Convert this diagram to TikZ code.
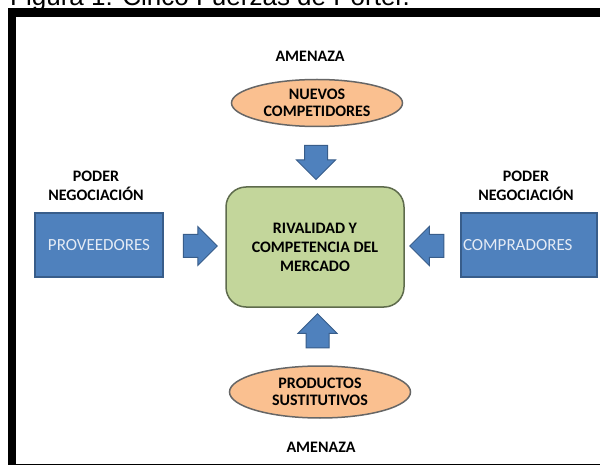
\documentclass[tikz,border=0pt]{standalone}
\usepackage{fontspec}
\setmainfont{Carlito}
\newfontfamily\arialfont{Liberation Sans}
\usetikzlibrary{shapes,arrows,calc}
\definecolor{azul}{HTML}{4F81BD}
\definecolor{azulborde}{HTML}{385D8A}
\definecolor{verde}{HTML}{C3D69B}
\definecolor{verdeborde}{HTML}{5E6B4C}
\definecolor{naranja}{HTML}{FAC090}
\definecolor{gris}{HTML}{666666}
\definecolor{textoclaro}{HTML}{E4EBF5}
\tikzstyle{fuerza} = [rectangle, draw=azulborde, fill=azul, line width=1.5pt, minimum width=128pt, minimum height=64pt, text=textoclaro, font=\fontsize{17}{20}\selectfont]
\tikzstyle{amenaza} = [ellipse, draw=gris, fill=naranja, line width=1.5pt, inner sep=0pt, align=center, font=\bfseries\fontsize{16}{17}\selectfont]
\tikzstyle{centro} = [rectangle, rounded corners=20pt, draw=verdeborde, fill=verde, line width=1.5pt, minimum width=178pt, minimum height=120pt, align=center, font=\bfseries\fontsize{16}{19}\selectfont]
\tikzstyle{flecha} = [single arrow, draw=azulborde, fill=azul, line width=1pt, minimum width=38pt, minimum height=34pt, single arrow head extend=8pt, inner xsep=0pt, inner ysep=11pt]
\tikzstyle{etiqueta} = [align=center, font=\bfseries\fontsize{16}{19}\selectfont]

\begin{document}
\begin{tikzpicture}[x=1pt,y=-1pt]
	\useasboundingbox (0,0) rectangle (600,465);
	\clip (0,0) rectangle (600,465);
	\fill[white] (0,0) rectangle (600,465);
	\draw[line width=8.5pt] (12,12.5) rectangle (620,468);
	\node[anchor=base west, inner sep=0pt] (titulo) at (10,5.5) {\arialfont\fontsize{26}{30}\selectfont Figura 1: Cinco Fuerzas de Porter.};

	\node[centro] (mercado) at (315,247) {RIVALIDAD Y\\COMPETENCIA DEL\\MERCADO};
	\node[amenaza, minimum width=171pt, minimum height=47pt] (nuevos) at (317,103) {NUEVOS\\COMPETIDORES};
	\node[amenaza, minimum width=181pt, minimum height=52pt] (productos) at (320,392) {PRODUCTOS\\SUSTITUTIVOS};
	\node[fuerza] (proveedores) at (99,245) {PROVEEDORES};
	\node[fuerza, minimum width=136pt, text width=132pt, inner xsep=2pt, align=left] (compradores) at (529,245) {COMPRADORES};

	\node[etiqueta] (amenaza1) at (310,56) {AMENAZA};
	\node[etiqueta] (amenaza2) at (321,447.5) {AMENAZA};
	\node[etiqueta] (poder1) at (96,186) {PODER\\NEGOCIACIÓN};
	\node[etiqueta] (poder2) at (526,186) {PODER\\NEGOCIACIÓN};

	\node[flecha, rotate=-90] (f1) at ($(nuevos.south)!0.5!(mercado.north)$) {};
	\node[flecha, rotate=90] (f2) at ($(productos.north)!0.5!(mercado.south)$) {};
	\node[flecha] (f3) at ($(proveedores.east)!0.5!(mercado.west)$) {};
	\node[flecha, rotate=180] (f4) at ($(compradores.west)!0.5!(mercado.east)$) {};
\end{tikzpicture}
\end{document}
